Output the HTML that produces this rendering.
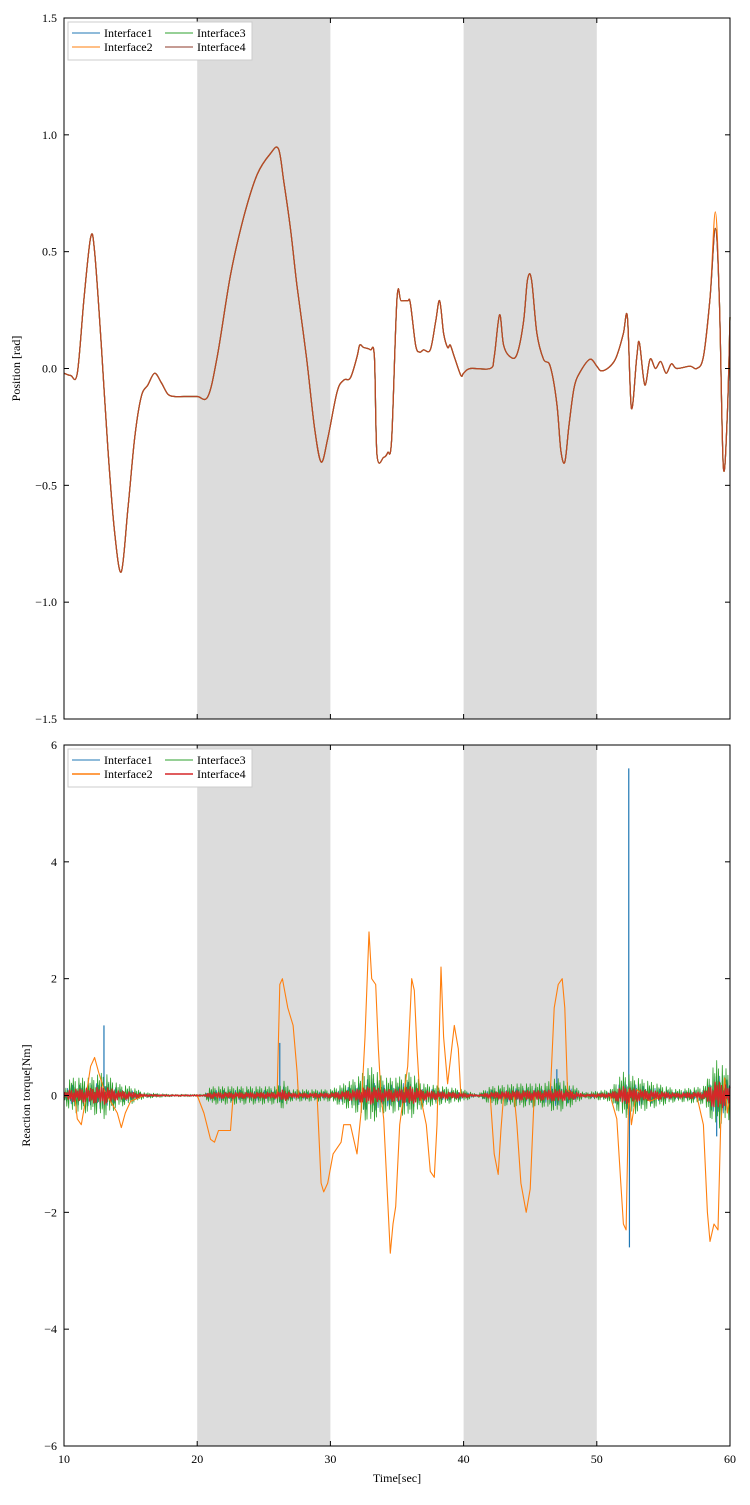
<!DOCTYPE html>
<html><head><meta charset="utf-8">
<style>
body{margin:0;background:#fff;width:750px;height:1500px;overflow:hidden;font-family:"Liberation Serif",serif;}
svg text{font-family:"Liberation Serif",serif;font-size:12px;fill:#000;}
</style></head>
<body>
<svg id="chart" width="750" height="1500" xmlns="http://www.w3.org/2000/svg"></svg>
<script>
// ---- data ----
const xTicks=[10,20,30,40,50,60];
const posTicks=[1.5,1.0,0.5,0.0,-0.5,-1.0,-1.5];
const torTicks=[6,4,2,0,-2,-4,-6];
const shadeStart=[20,40];
const shadeEnd=[30,50];
const posT=[10,10.5,11,11.5,12,12.3,12.8,13.3,13.8,14.3,14.8,15.3,15.8,16.3,16.8,17.3,17.8,18.3,19,20,20.8,21.5,22.5,23.5,24.5,25.5,26.1,26.5,27,27.5,28.2,28.8,29.3,29.8,30.5,31,31.5,32,32.2,32.5,33,33.3,33.5,34,34.3,34.6,35,35.3,35.8,36,36.4,36.7,37,37.5,37.9,38.2,38.5,38.8,39,39.3,39.8,40,40.5,42,42.3,42.7,43,43.5,44,44.5,44.8,45.1,45.5,46,46.5,47,47.3,47.6,47.9,48.3,48.8,49.5,50,50.3,50.8,51.3,51.6,52,52.3,52.6,53,53.2,53.6,54,54.4,54.8,55.2,55.6,56,57,57.5,58,58.5,58.9,59.2,59.5,59.8,60];
const posV=[-0.02,-0.03,-0.02,0.3,0.56,0.5,0.1,-0.35,-0.7,-0.87,-0.6,-0.3,-0.12,-0.07,-0.02,-0.06,-0.11,-0.12,-0.12,-0.12,-0.12,0.05,0.4,0.65,0.83,0.92,0.94,0.8,0.6,0.35,0.05,-0.25,-0.4,-0.3,-0.1,-0.05,-0.04,0.05,0.1,0.09,0.08,0.05,-0.37,-0.38,-0.36,-0.3,0.3,0.29,0.29,0.28,0.1,0.07,0.08,0.08,0.2,0.29,0.15,0.09,0.1,0.05,-0.03,-0.02,0,0,0.05,0.23,0.1,0.05,0.06,0.2,0.38,0.38,0.15,0.04,0.01,-0.15,-0.35,-0.4,-0.25,-0.08,-0.01,0.04,0.01,-0.01,0,0.03,0.07,0.15,0.22,-0.17,0.05,0.11,-0.07,0.04,0,0.03,-0.02,0.02,0,0.01,0,0.05,0.3,0.6,0.3,-0.42,-0.2,0.22];
const posV2Peak=[58.9,0.67];
const torT=[10,10.8,11,11.3,11.6,12,12.3,12.6,13,13.5,14,14.3,14.6,15,16,20,20.5,21,21.3,21.6,22.5,22.7,26,26.2,26.4,26.8,27.2,27.5,27.6,29,29.3,29.5,29.8,30.2,30.5,30.8,31,31.5,32,32.3,32.6,32.9,33.1,33.4,33.6,33.8,34,34.3,34.5,34.7,34.9,35.2,35.5,35.8,36.1,36.3,36.5,36.7,37.2,37.5,37.8,38,38.3,38.5,38.8,39,39.3,39.6,39.8,42,42.3,42.6,42.8,43,43.8,44,44.3,44.7,45,45.3,46.5,46.8,47.1,47.4,47.6,47.8,48.3,51,51.5,51.8,52,52.2,52.4,52.6,53,54,55,57.5,58,58.3,58.5,58.8,59.1,59.3,59.6,59.8,60];
const torV=[0,0,-0.4,-0.5,-0.1,0.5,0.65,0.4,0.1,-0.1,-0.3,-0.55,-0.3,-0.1,0,0,-0.3,-0.75,-0.8,-0.6,-0.6,0,0,1.9,2.0,1.5,1.2,0.4,0,0,-1.5,-1.65,-1.5,-1.0,-0.9,-0.8,-0.5,-0.5,-1.0,-0.3,1.0,2.8,2.0,1.9,0.8,0,-0.4,-1.8,-2.7,-2.2,-1.9,-0.5,0,0.5,2.0,1.8,0.8,0.05,-0.5,-1.3,-1.4,-0.5,2.2,1.0,0.2,0.6,1.2,0.8,0,0,-1.0,-1.35,-0.6,0,0,-0.5,-1.5,-2.0,-1.6,0,0,1.5,1.9,2.0,1.5,0.1,0,0,-0.4,-1.5,-2.2,-2.3,0.1,-0.5,0.1,-0.1,0,0,-0.5,-2.0,-2.5,-2.2,-2.3,-0.5,0.3,-0.3,0];
const noiseT=[10,10.5,12,13,14,15,16,18,20.5,21,26,26.5,27,30,32,33,34,35,36,37,40,41,42,44,46,47,48,49,51,52,53,56,58,59,60];
const greenAmp=[0.1,0.3,0.3,0.4,0.2,0.15,0.05,0.02,0.02,0.15,0.15,0.25,0.1,0.1,0.3,0.5,0.3,0.3,0.4,0.2,0.1,0.02,0.15,0.2,0.2,0.3,0.2,0.05,0.1,0.4,0.3,0.1,0.15,0.6,0.4];
const redAmp=[0.04,0.1,0.12,0.15,0.08,0.06,0.02,0.01,0.01,0.05,0.05,0.1,0.04,0.04,0.1,0.15,0.1,0.1,0.15,0.08,0.04,0.01,0.05,0.08,0.08,0.1,0.08,0.02,0.04,0.15,0.1,0.04,0.06,0.25,0.15];
const spikeT=[13,26.2,47,52.4,52.45,59];
const spikeV=[1.2,0.9,0.45,5.6,-2.6,-0.7];

// ---- geometry ----
const L=64,R=730;
const top1=18,bot1=719,top2=745,bot2=1446;
const X=t=>L+(t-10)/50*(R-L);
const Y1=v=>top1+(1.5-v)/3*(bot1-top1);
const Y2=v=>top2+(6-v)/12*(bot2-top2);
const NS="http://www.w3.org/2000/svg";
const svg=document.getElementById('chart');
function el(tag,attrs,parent){const e=document.createElementNS(NS,tag);for(const k in attrs)e.setAttribute(k,attrs[k]);(parent||svg).appendChild(e);return e;}
function interp(ts,vs,t){if(t<=ts[0])return vs[0];for(let i=1;i<ts.length;i++){if(t<=ts[i]){const f=(t-ts[i-1])/(ts[i]-ts[i-1]);return vs[i-1]+f*(vs[i]-vs[i-1]);}}return vs[vs.length-1];}

function panel(top,bot,name){
  const g=el('g',{});
  
  
  for(let i=0;i<shadeStart.length;i++){
    const r=el('rect',{x:X(shadeStart[i]),y:top,width:X(shadeEnd[i])-X(shadeStart[i]),height:bot-top,fill:'#dcdcdc'},g);
    
    
  }
  return g;
}
function frame(top,bot,Y,yt,g,title,titleX,showX){
  el('rect',{x:L,y:top,width:R-L,height:bot-top,fill:'none',stroke:'#000','stroke-width':1},g);
  yt.forEach(v=>{
    const y=Y(v);
    el('line',{x1:L,x2:L+5,y1:y,y2:y,stroke:'#000'},g);
    el('line',{x1:R,x2:R-5,y1:y,y2:y,stroke:'#000'},g);
    const t=el('text',{x:L-7,y:y+4,'text-anchor':'end'},g);
    t.textContent=(v<0?'\u2212':'')+(Number.isInteger(yt[0])?Math.abs(v).toFixed(0):Math.abs(v).toFixed(1));
    
    
  });
  xTicks.forEach(v=>{
    const x=X(v);
    el('line',{x1:x,x2:x,y1:bot,y2:bot-5,stroke:'#000'},g);
    el('line',{x1:x,x2:x,y1:top,y2:top+5,stroke:'#000'},g);
    if(showX){const t=el('text',{x:x,y:bot+17,'text-anchor':'middle'},g);t.textContent=v;
      
      }
  });
  const cy=(top+bot)/2;
  const tt=el('text',{x:titleX,y:cy,'text-anchor':'middle',transform:`rotate(-90 ${titleX} ${cy})`},g);
  tt.textContent=title;
  
  
}
function legend(top,g,colors,widths){
  const box=el('rect',{x:68,y:top+4,width:184,height:38,fill:'#fff',stroke:'#ccc'},g);
  
  
  const names=['Interface1','Interface2','Interface3','Interface4'];
  const pos=[[72,top+15],[72,top+29],[165,top+15],[165,top+29]];
  names.forEach((n,i)=>{
    const [x,y]=pos[i];
    el('line',{x1:x,x2:x+28,y1:y,y2:y,stroke:colors[i],'stroke-width':widths[i]},g);
    const t=el('text',{x:x+32,y:y+4},g);t.textContent=n;
    
    
  });
}
function path(ts,vs,Y,color,w,g,name,smooth){
  const P=ts.map((t,i)=>[X(t),Y(vs[i])]);
  let d='M'+P[0][0].toFixed(1)+' '+P[0][1].toFixed(1);
  for(let i=1;i<P.length;i++){
    if(smooth){
      const p0=P[Math.max(0,i-2)],p1=P[i-1],p2=P[i],p3=P[Math.min(P.length-1,i+1)];
      const c1=[p1[0]+(p2[0]-p0[0])/6,p1[1]+(p2[1]-p0[1])/6];
      const c2=[p2[0]-(p3[0]-p1[0])/6,p2[1]-(p3[1]-p1[1])/6];
      d+=`C${c1[0].toFixed(1)} ${c1[1].toFixed(1)} ${c2[0].toFixed(1)} ${c2[1].toFixed(1)} ${p2[0].toFixed(1)} ${p2[1].toFixed(1)}`;
    } else d+='L'+P[i][0].toFixed(1)+' '+P[i][1].toFixed(1);
  }
  const p=el('path',{d:d,fill:'none',stroke:color,'stroke-width':w,'stroke-linejoin':'round'},g);
  
  
  return p;
}

// top panel
const g1=panel(top1,bot1,'position-panel');
path(posT,posV,Y1,'#1f77b4',1.2,g1,'interface1-line',true);
path(posT,posV,Y1,'#2ca02c',1.2,g1,'interface3-line',true);
const posV2=posV.map((v,i)=>posT[i]===posV2Peak[0]?posV2Peak[1]:v);
path(posT,posV2,Y1,'#ff7f0e',1.2,g1,'interface2-line',true);
path(posT,posV,Y1,'#b5452a',1.2,g1,'interface4-line',true);
frame(top1,bot1,Y1,posTicks,g1,'Position [rad]',20,false);
legend(top1,g1,['#1f77b4','#ff7f0e','#2ca02c','#8c3a2a'],[1,1,1,1]);

// bottom panel
const g2=panel(top2,bot2,'torque-panel');
function noise(ampArr,color,w,name,step,phase){
  const ts=[],vs=[];let k=0;
  const pat=[1,-0.6,0.8,-1,0.4,-0.9,1,-0.3,0.7,-0.8];
  for(let t=10;t<=60;t+=step){ts.push(t);vs.push(pat[(k+phase)%pat.length]*interp(noiseT,ampArr,t));k++;}
  path(ts,vs,Y2,color,w,g2,name,false);
}
noise(greenAmp.map(a=>a*0.6),'#1f77b4',0.7,'interface1-line',0.09,3);
spikeT.forEach((t,i)=>{
  const s=el('line',{x1:X(t),x2:X(t),y1:Y2(0),y2:Y2(spikeV[i]),stroke:'#1f77b4','stroke-width':1.2},g2);
  
  
});
noise(greenAmp,'#2ca02c',0.8,'interface3-line',0.07,0);
path(torT,torV,Y2,'#ff7f0e',1.1,g2,'interface2-line',false);
noise(redAmp,'#d62728',1.3,'interface4-line',0.08,5);
frame(top2,bot2,Y2,torTicks,g2,'Reaction torque[Nm]',30,true);
legend(top2,g2,['#1f77b4','#ff7f0e','#2ca02c','#d62728'],[1,1.5,1,1.5]);
const xt=el('text',{x:397,y:1482,'text-anchor':'middle'});
xt.textContent='Time[sec]';


</script>
</body></html>
